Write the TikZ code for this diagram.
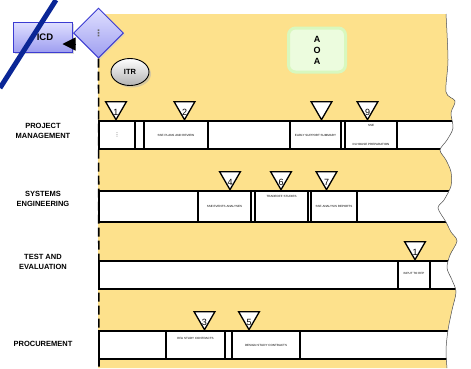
\documentclass[tikz,border=0pt]{standalone}
\usepackage{fontspec}
\setmainfont{Liberation Sans}
\newfontfamily\symfont{DejaVu Sans}
\usepackage{tikz}
\usetikzlibrary{shapes.geometric, arrows.meta, positioning, shadows}

\definecolor{paper}{RGB}{253,225,140}
\definecolor{icdedge}{RGB}{60,60,210}
\definecolor{icdtop}{RGB}{224,224,255}
\definecolor{icdbot}{RGB}{158,158,240}
\definecolor{navy}{RGB}{10,38,150}
\definecolor{aoafill}{RGB}{236,252,222}
\definecolor{aoaedge}{RGB}{216,248,190}

\tikzstyle{lanelbl} = [align=center, font=\bfseries\fontsize{7.5}{10}\selectfont]
\tikzstyle{tasktxt} = [font=\fontsize{3}{3.5}\selectfont, inner sep=0pt]
\tikzstyle{task} = [draw, line width=1.3pt, fill=white, minimum height=28pt,
    inner sep=0pt, outer sep=0pt, align=center, tasktxt]
\tikzstyle{icdbox} = [draw=icdedge, line width=1pt, top color=icdtop, bottom color=icdbot,
    minimum width=59pt, minimum height=30pt, font=\bfseries\fontsize{9.5}{10}\selectfont,
    drop shadow={shadow xshift=2pt, shadow yshift=-2pt, fill=black!30}]
\tikzstyle{gate} = [diamond, aspect=1, draw=icdedge, line width=1pt, top color=icdtop,
    bottom color=icdbot, minimum width=50pt, minimum height=50pt, inner sep=0pt,
    font=\symfont\bfseries\fontsize{9}{9}\selectfont, text=black!60,
    drop shadow={shadow xshift=1.5pt, shadow yshift=-1.5pt, fill=black!20}]
\tikzstyle{review} = [ellipse, draw, line width=0.9pt, top color=white, bottom color=black!30,
    minimum width=38pt, minimum height=27pt, inner sep=0pt,
    font=\bfseries\fontsize{7.5}{8}\selectfont,
    drop shadow={shadow xshift=2pt, shadow yshift=-2pt, fill=black!30}]
\tikzstyle{study} = [draw=aoaedge, line width=3pt, fill=aoafill, rounded corners=7pt,
    minimum width=57pt, minimum height=44pt, align=center,
    font=\bfseries\fontsize{9}{11}\selectfont]
\tikzstyle{arr} = [-{Triangle[length=13pt,width=13pt]}, line width=1pt]
\tikzset{
  mile/.style={regular polygon, regular polygon sides=3, shape border rotate=180,
    draw, line width=1.3pt, fill=white, minimum size=24pt, inner sep=0pt,
    anchor=corner 1, label={[font=\fontsize{9}{9}\selectfont, yshift=-5pt]center:#1}},
  tornedge/.style={insert path={-- plot[smooth] coordinates {(446,14) (448,60) (446,92)
    (455,101) (451,113) (453,128) (447,140) (440,150) (446,160) (451,172) (451,186)
    (444,200) (438,208) (446,222) (451,232) (457,241) (450,255) (447,268) (452,280)
    (456,292) (452,310) (448,330) (446,350) (447,368)}}}
}

\begin{document}
\begin{tikzpicture}[x=1pt, y=-1pt]
  \useasboundingbox (0,0) rectangle (471,368);

  % paper background with torn right side
  \fill[paper] (98,14) [tornedge] -- (98,368) -- cycle;
  \coordinate (foot) at (99,368);

  % reviews and studies above the lanes
  \node[study] (aoa) at (317,50) {A\\O\\A};
  \node[review] (itr) at (130,72) {ITR};
  \node[icdbox] (icd) at (42.5,37) {\hspace*{5pt}ICD};
  \node[gate] (dia) at (98.5,33) {⋮};
  \draw[line width=1.6pt, dash pattern=on 9pt off 4pt] (dia.south) -- (foot);
  \draw[arr] ([xshift=3pt, yshift=-11pt]dia.west) -- ([xshift=-10pt, yshift=-7pt]icd.east);

  % Lane 1: project management
  \node[task, minimum width=36pt, anchor=west] (pm1) at (99,135) {\symfont\fontsize{5}{5}\selectfont ⋮};
  \node[task, minimum width=9pt, right=0pt of pm1] (pm2) {};
  \node[task, minimum width=64pt, right=0pt of pm2] (pm3) {SSE PLANS AND REVIEW};
  \node[task, minimum width=82pt, right=0pt of pm3] (pm4) {};
  \node[task, minimum width=51pt, right=0pt of pm4] (pm5) {\raisebox{-3pt}{EARLY SUPPORT SUMMARY}};
  \node[task, minimum width=4pt, right=0pt of pm5] (pm6) {};
  \node[task, minimum width=52pt, right=0pt of pm6] (pm7) {SSE\\[15pt]IN-HOUSE PREPARATION};
  \node[task, minimum width=73pt, right=0pt of pm7] (pm8) {};

  % Lane 2: systems engineering
  \node[task, minimum width=99pt, minimum height=31pt, anchor=west] (se1) at (99,206.5) {};
  \node[task, minimum width=53pt, minimum height=31pt, right=0pt of se1] (se2) {\raisebox{-3pt}{SSE EVENTS ANALYSES}};
  \node[task, minimum width=4pt, minimum height=31pt, right=0pt of se2] (se3) {};
  \node[task, minimum width=53pt, minimum height=31pt, right=0pt of se3,
    label={[tasktxt, anchor=north, yshift=-4pt]north:TRADEOFF STUDIES}] (se4) {};
  \node[task, minimum width=3pt, minimum height=31pt, right=0pt of se4] (se5) {};
  \node[task, minimum width=46pt, minimum height=31pt, right=0pt of se5] (se6) {\raisebox{-3pt}{SSE ANALYSIS REPORTS}};
  \node[task, minimum width=113pt, minimum height=31pt, right=0pt of se6] (se7) {};

  % Lane 3: test and evaluation
  \node[task, minimum width=299pt, anchor=west] (te1) at (99,275) {};
  \node[task, minimum width=32pt, right=0pt of te1] (te2) {\raisebox{3pt}{INPUT TO RFP}};
  \node[task, minimum width=40pt, right=0pt of te2] (te3) {};

  % Lane 4: procurement
  \node[task, minimum width=67pt, anchor=west] (pr1) at (99,345) {};
  \node[task, minimum width=59pt, right=0pt of pr1,
    label={[tasktxt, anchor=north, yshift=-6pt]north:RFA STUDY CONTRACTS}] (pr2) {};
  \node[task, minimum width=7pt, right=0pt of pr2] (pr3) {};
  \node[task, minimum width=68pt, right=0pt of pr3] (pr4) {DESIGN STUDY CONTRACTS};
  \node[task, minimum width=170pt, right=0pt of pr4] (pr5) {};

  % milestones
  \node[mile=1] (ms1) at (116,121) {};
  \node[mile=2] (ms2) at (184.5,121) {};
  \node[mile=] (ms8) at (321.5,121) {};
  \node[mile=9] (ms9) at (367.5,121) {};
  \node[mile=4] (ms4) at (230,191) {};
  \node[mile=6] (ms6) at (281,191) {};
  \node[mile=7] (ms7) at (326.5,191) {};
  \node[mile=1] (mt1) at (415,261) {};
  \node[mile=3] (ms3) at (204.5,331) {};
  \node[mile=5] (ms5) at (249,331) {};

  % cut off the lanes along the torn edge
  \fill[white] (471,0) -- (446,0) -- (446,14) [tornedge] -- (471,368) -- cycle;
  \draw[black!70, line width=0.5pt] (446,14) [tornedge];

  % lane titles
  \node[lanelbl] (pmlbl) at (43,131) {PROJECT\\MANAGEMENT};
  \node[lanelbl] (selbl) at (43,199) {SYSTEMS\\ENGINEERING};
  \node[lanelbl] (telbl) at (43,262) {TEST AND\\EVALUATION};
  \node[lanelbl] (prlbl) at (43,344) {PROCUREMENT};

  % strike-through stroke across the corner
  \draw[navy, line width=5pt] (0,88) -- (56,0);
\end{tikzpicture}
\end{document}
